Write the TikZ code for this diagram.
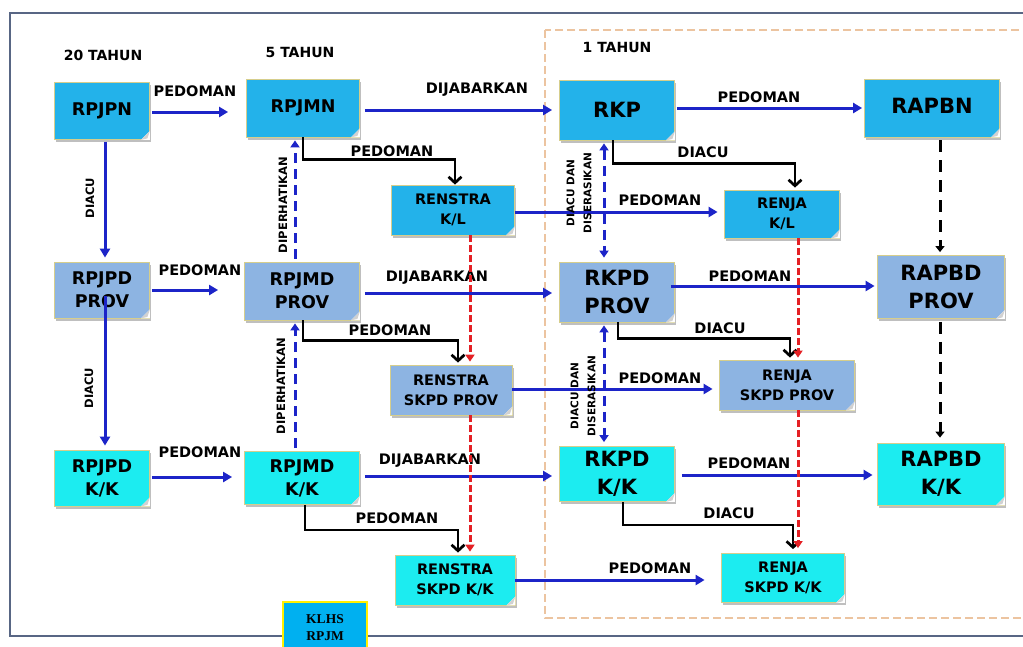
\documentclass[tikz,border=0pt]{standalone}
\usepackage{fontspec}
\setmainfont{DejaVu Sans}
\newfontfamily\klhsfont{Liberation Serif}
\usetikzlibrary{arrows.meta,shadows,calc}

\definecolor{nblue}{RGB}{35,178,234}
\definecolor{pblue}{RGB}{141,180,226}
\definecolor{kcyan}{RGB}{28,236,240}
\definecolor{ablue}{RGB}{28,36,200}
\definecolor{rdash}{RGB}{228,32,36}
\definecolor{oframe}{RGB}{236,196,160}
\definecolor{gframe}{RGB}{88,102,132}
\definecolor{bedge}{RGB}{214,206,140}
\definecolor{klhsblue}{RGB}{0,176,240}
\definecolor{klhsedge}{RGB}{255,240,0}

\newcommand\foldc[1]{%
  \fill[white] (#1.south east) -- ++(-9,0) -- ++(9,-9) -- cycle;
  \fill[black!18] ([xshift=-9pt]#1.south east) -- ++(9,-9) -- ++(-2.5,7.5) -- cycle;}

\tikzset{
  box/.style={rectangle, draw=bedge, line width=0.8pt, align=center, inner sep=0pt,
    font=\fontsize{17.5}{23}\selectfont\bfseries,
    drop shadow={shadow xshift=1.5pt, shadow yshift=-2.5pt, fill=black, opacity=0.25}},
  nbox/.style={box, fill=nblue},
  pbox/.style={box, fill=pblue},
  kbox/.style={box, fill=kcyan},
  subtxt/.style={font=\fontsize{14.5}{20}\selectfont\bfseries},
  bigtxt/.style={font=\fontsize{21}{28}\selectfont\bfseries},
  lbl/.style={font=\fontsize{14.5}{17}\selectfont\bfseries, inner sep=0pt},
  vlbl/.style={font=\fontsize{11.5}{14}\selectfont\bfseries, inner sep=0pt, rotate=90},
  vlbl2/.style={font=\fontsize{10.5}{17}\selectfont\bfseries, inner sep=0pt, rotate=90, align=center},
  barrow/.style={draw=ablue, line width=3pt, -{Triangle[length=9pt,width=10pt]}},
  karrow/.style={draw=black, line width=2.7pt, -{Straight Barb[length=6pt,width=13pt,line width=2.7pt]}},
  bdashed/.style={draw=ablue, line width=3pt, dash pattern=on 10pt off 6pt, -{Triangle[length=7pt,width=9pt]}},
  bdashed2/.style={draw=ablue, line width=3pt, dash pattern=on 10pt off 6pt, {Triangle[length=7pt,width=9pt]}-{Triangle[length=7pt,width=9pt]}},
  rdashed/.style={draw=rdash, line width=3pt, dash pattern=on 7pt off 3pt, -{Triangle[length=7pt,width=9pt]}},
  kdashed/.style={draw=black, line width=3pt, dash pattern=on 12pt off 8pt, -{Triangle[length=6pt,width=9pt]}},
}

\begin{document}
\begin{tikzpicture}[x=1pt,y=-1pt]
\clip (0,0) rectangle (1023,646);
\fill[white] (0,0) rectangle (1023,646);

% frames
\draw[gframe, line width=1.8pt] (10,13) rectangle (1040,636);
\draw[oframe, line width=2.2pt, dash pattern=on 8pt off 4pt] (545,30) rectangle (1040,618);

% period headings
\node[lbl, font=\fontsize{14}{17}\selectfont\bfseries] (h20) at (103,55) {20 TAHUN};
\node[lbl, font=\fontsize{14}{17}\selectfont\bfseries] (h5) at (300,52) {5 TAHUN};
\node[lbl, font=\fontsize{14}{17}\selectfont\bfseries] (h1) at (617,47) {1 TAHUN};

% boxes
\node[nbox, minimum width=95pt, minimum height=57pt] (rpjpn) at (102,111) {RPJPN};
\node[nbox, minimum width=113pt, minimum height=58pt] (rpjmn) at (303,108) {\raisebox{3pt}{RPJMN}};
\node[nbox, minimum width=115pt, minimum height=60pt, bigtxt] (rkp) at (617,110) {RKP};
\node[nbox, minimum width=135pt, minimum height=58pt, bigtxt] (rapbn) at (932,108) {\raisebox{4pt}{RAPBN}};
\node[nbox, minimum width=123pt, minimum height=50pt, subtxt] (renkl) at (453,210) {RENSTRA\\K/L};
\node[nbox, minimum width=115pt, minimum height=48pt, subtxt] (renjakl) at (782,214) {RENJA\\K/L};

\node[pbox, minimum width=95pt, minimum height=56pt] (rpjpdp) at (102,290) {RPJPD\\PROV};
\node[pbox, minimum width=115pt, minimum height=58pt] (rpjmdp) at (302,291) {RPJMD\\PROV};
\node[pbox, minimum width=115pt, minimum height=60pt, bigtxt] (rkpdp) at (617,292) {RKPD\\PROV};
\node[pbox, minimum width=127pt, minimum height=63pt, bigtxt] (rapbdp) at (941,287) {RAPBD\\PROV};
\node[pbox, minimum width=122pt, minimum height=50pt, subtxt] (rensp) at (451,390) {RENSTRA\\SKPD PROV};
\node[pbox, minimum width=135pt, minimum height=50pt, subtxt] (renjap) at (787,385) {RENJA\\SKPD PROV};

\node[kbox, minimum width=95pt, minimum height=56pt] (rpjpdk) at (102,478) {RPJPD\\K/K};
\node[kbox, minimum width=115pt, minimum height=53pt] (rpjmdk) at (302,478) {RPJMD\\K/K};
\node[kbox, minimum width=115pt, minimum height=55pt, bigtxt] (rkpdk) at (617,474) {RKPD\\K/K};
\node[kbox, minimum width=127pt, minimum height=62pt, bigtxt] (rapbdk) at (941,474) {RAPBD\\K/K};
\node[kbox, minimum width=120pt, minimum height=50pt, subtxt] (rensk) at (455,580) {RENSTRA\\SKPD K/K};
\node[kbox, minimum width=123pt, minimum height=49pt, subtxt] (renjak) at (783,578) {RENJA\\SKPD K/K};

\foreach \n in {rpjpn,rpjmn,rkp,rapbn,renkl,renjakl,rpjpdp,rpjmdp,rkpdp,rapbdp,rensp,renjap,rpjpdk,rpjmdk,rkpdk,rapbdk,rensk,renjak}{\foldc{\n}}

% KLHS box
\node[draw=klhsedge, line width=2pt, fill=klhsblue, minimum width=84pt, minimum height=52pt,
  align=center, inner sep=0pt, font=\klhsfont\fontsize{13.5}{17}\selectfont\bfseries] (klhs) at (325,628) {KLHS\\RPJM};

% horizontal blue arrows
\draw[barrow, shorten <=2pt, shorten >=18pt] (rpjpn.east |- 0,112) -- (rpjmn.west |- 0,112);
\draw[barrow, shorten <=5pt, shorten >=7pt] (rpjmn.east |- 0,110) -- (rkp.west |- 0,110);
\draw[barrow, shorten <=2pt, shorten >=2pt] (rkp.east |- 0,108) -- (rapbn.west |- 0,108);
\draw[barrow, shorten <=2pt, shorten >=26pt] (rpjpdp.east |- 0,290) -- (rpjmdp.west |- 0,290);
\draw[barrow, shorten <=5pt, shorten >=7pt] (rpjmdp.east |- 0,293) -- (rkpdp.west |- 0,293);
\draw[barrow, shorten <=-4pt, shorten >=2.5pt] (rkpdp.east |- 0,286) -- (rapbdp.west |- 0,286);
\draw[barrow, shorten <=2pt, shorten >=12pt] (rpjpdk.east |- 0,477) -- (rpjmdk.west |- 0,477);
\draw[barrow, shorten <=5pt, shorten >=7pt] (rpjmdk.east |- 0,476) -- (rkpdk.west |- 0,476);
\draw[barrow, shorten <=7pt, shorten >=4.5pt] (rkpdk.east |- 0,475) -- (rapbdk.west |- 0,475);
\draw[barrow, shorten <=0pt, shorten >=6.5pt] (renkl.east |- 0,212) -- (renjakl.west |- 0,212);
\draw[barrow, shorten <=0pt, shorten >=6.5pt] (rensp.east |- 0,389) -- (renjap.west |- 0,389);
\draw[barrow, shorten <=0pt, shorten >=16.5pt] (rensk.east |- 0,580) -- (renjak.west |- 0,580);

% vertical blue arrows (left column)
\draw[barrow, shorten <=2pt, shorten >=4pt] (rpjpn.south -| 105,0) -- (rpjpdp.north -| 105,0);
\draw[barrow, shorten <=6pt, shorten >=4pt] (rpjpdp.center -| 105,0) -- (rpjpdk.north -| 105,0);

% black elbow arrows
\draw[karrow] (rpjmn.south -| 303,0) -- ++(0,22) -| (renkl.north -| 455,0);
\draw[karrow, shorten >=2pt] (rpjmdp.south -| 303,0) -- ++(0,20) -| (rensp.north -| 458,0);
\draw[karrow, shorten >=2pt] (rpjmdk.south -| 305,0) -- ++(0,25) -| (rensk.north -| 458,0);
\draw[karrow, shorten >=2pt] (rkp.south -| 613,0) -- ++(0,23) -| (renjakl.north -| 795,0);
\draw[karrow, shorten >=2pt] (rkpdp.south -| 618,0) -- ++(0,16) -| (renjap.north -| 790,0);
\draw[karrow, shorten >=4pt] (rkpdk.south -| 623,0) -- ++(0,23) -| (renjak.north -| 793,0);

% blue dashed arrows
\draw[bdashed, shorten <=3pt, shorten >=3pt] (rpjmdp.north -| 295,0) -- (rpjmn.south -| 295,0);
\draw[bdashed, shorten <=3pt, shorten >=3pt] (rpjmdk.north -| 295,0) -- (rpjmdp.south -| 295,0);
\draw[bdashed2, shorten <=3pt, shorten >=4pt] (rkp.south -| 604,0) -- (rkpdp.north -| 604,0);
\draw[bdashed2, shorten <=3pt, shorten >=4pt] (rkpdp.south -| 604,0) -- (rkpdk.north -| 604,0);

% black dashed arrows
\draw[kdashed, shorten <=3pt, shorten >=3pt] (rapbn.south -| 940,0) -- (rapbdp.north -| 940,0);
\draw[kdashed, shorten <=3pt, shorten >=5pt] (rapbdp.south -| 940,0) -- (rapbdk.north -| 940,0);

% labels
\node[lbl] (l1) at (195,91) {PEDOMAN};
\node[lbl] (l2) at (477,90) {DIJABARKAN};
\node[lbl] (l3) at (759,97) {PEDOMAN};
\node[lbl] (l4) at (392,151) {PEDOMAN};
\node[lbl] (l5) at (703,152) {DIACU};
\node[lbl] (l6) at (660,200) {PEDOMAN};
\node[lbl] (l7) at (200,270) {PEDOMAN};
\node[lbl] (l8) at (437,278) {DIJABARKAN};
\node[lbl] (l9) at (750,276) {PEDOMAN};
\node[lbl] (l10) at (390,330) {PEDOMAN};
\node[lbl] (l11) at (720,328) {DIACU};
\node[lbl] (l12) at (660,378) {PEDOMAN};
\node[lbl] (l13) at (200,452) {PEDOMAN};
\node[lbl] (l14) at (430,461) {DIJABARKAN};
\node[lbl] (l15) at (749,463) {PEDOMAN};
\node[lbl] (l16) at (397,518) {PEDOMAN};
\node[lbl] (l17) at (729,513) {DIACU};
\node[lbl] (l18) at (650,568) {PEDOMAN};

\node[vlbl] (v1) at (90,198) {DIACU};
\node[vlbl] (v2) at (89,388) {DIACU};
\node[vlbl] (v3) at (283,205) {DIPERHATIKAN};
\node[vlbl] (v4) at (281,386) {DIPERHATIKAN};
\node[vlbl2] (v5) at (579,193) {DIACU DAN\\DISERASIKAN};
\node[vlbl2] (v6) at (583,396) {DIACU DAN\\DISERASIKAN};

% red dashed arrows (on top)
\draw[rdashed, shorten >=3pt] (renkl.south -| 470,0) -- (rensp.north -| 470,0);
\draw[rdashed, shorten >=3pt] (rensp.south -| 470,0) -- (rensk.north -| 470,0);
\draw[rdashed, shorten >=2pt] (renjakl.south -| 798,0) -- (renjap.north -| 798,0);
\draw[rdashed, shorten >=5pt] (renjap.south -| 798,0) -- (renjak.north -| 798,0);
\end{tikzpicture}
\end{document}
